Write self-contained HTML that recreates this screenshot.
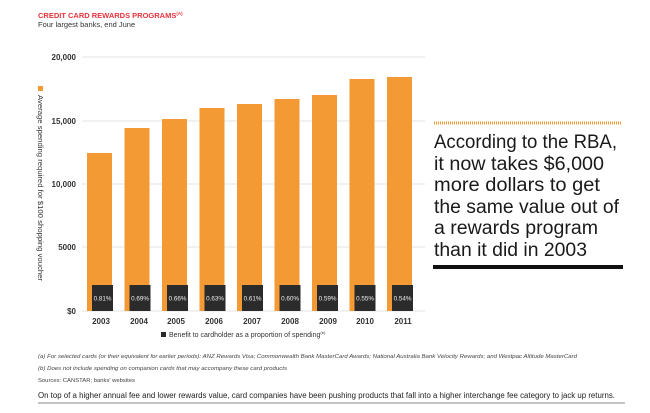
<!DOCTYPE html>
<html><head><meta charset="utf-8"><style>
body{margin:0;background:#fff;}
svg{display:block;font-family:"Liberation Sans",sans-serif;}
</style></head><body>
<svg width="650" height="413" viewBox="0 0 650 413">
<text x="38" y="18" font-size="7.5" font-weight="bold" fill="#e8333c">CREDIT CARD REWARDS PROGRAMS<tspan font-size="4.5" dy="-3">(A)</tspan></text>
<text x="38" y="27" font-size="7.5" fill="#333">Four largest banks, end June</text>
<g stroke="#e3e3e3" stroke-width="1">
<line x1="82" y1="57" x2="425" y2="57"/><line x1="82" y1="121" x2="425" y2="121"/>
<line x1="82" y1="184" x2="425" y2="184"/><line x1="82" y1="247" x2="425" y2="247"/>
<line x1="82" y1="311" x2="425" y2="311"/>
</g>
<g font-size="8" font-weight="bold" fill="#333" text-anchor="end">
<text x="76" y="60">20,000</text><text x="76" y="124">15,000</text>
<text x="76" y="187">10,000</text><text x="76" y="250">5000</text><text x="76" y="314">$0</text>
</g>
<rect x="38" y="86" width="5" height="5" fill="#f39a34"/>
<text transform="translate(38,95) rotate(90)" font-size="7" fill="#333" textLength="186" lengthAdjust="spacingAndGlyphs">Average spending required for $100 shopping voucher</text>
<g fill="#f39a34">
<rect x="87" y="153" width="25" height="158"/>
<rect x="124.5" y="128" width="25" height="183"/>
<rect x="162" y="119" width="25" height="192"/>
<rect x="199.5" y="108" width="25" height="203"/>
<rect x="237" y="104" width="25" height="207"/>
<rect x="274.5" y="99" width="25" height="212"/>
<rect x="312" y="95" width="25" height="216"/>
<rect x="349.5" y="79" width="25" height="232"/>
<rect x="387" y="77" width="25" height="234"/>
</g>
<g fill="#2b2b2b">
<rect x="92" y="285" width="21" height="26"/><rect x="129.5" y="285" width="21" height="26"/>
<rect x="167" y="285" width="21" height="26"/><rect x="204.5" y="285" width="21" height="26"/>
<rect x="242" y="285" width="21" height="26"/><rect x="279.5" y="285" width="21" height="26"/>
<rect x="317" y="285" width="21" height="26"/><rect x="354.5" y="285" width="21" height="26"/>
<rect x="392" y="285" width="21" height="26"/>
</g>
<g font-size="6.3" fill="#eee" text-anchor="middle">
<text x="102.5" y="300.5">0.81%</text><text x="140" y="300.5">0.69%</text><text x="177.5" y="300.5">0.66%</text>
<text x="215" y="300.5">0.63%</text><text x="252.5" y="300.5">0.61%</text><text x="290" y="300.5">0.60%</text>
<text x="327.5" y="300.5">0.59%</text><text x="365" y="300.5">0.55%</text><text x="402.5" y="300.5">0.54%</text>
</g>
<g font-size="8" font-weight="bold" fill="#333" text-anchor="middle">
<text x="101" y="324">2003</text><text x="139" y="324">2004</text><text x="176" y="324">2005</text>
<text x="214" y="324">2006</text><text x="252" y="324">2007</text><text x="290" y="324">2008</text>
<text x="328" y="324">2009</text><text x="365" y="324">2010</text><text x="403" y="324">2011</text>
</g>
<rect x="161" y="332" width="5" height="5" fill="#2b2b2b"/>
<text x="169" y="337" font-size="7" fill="#333">Benefit to cardholder as a proportion of spending<tspan font-size="4" dy="-3">(b)</tspan></text>
<g font-size="5.6" font-style="italic" fill="#444">
<text x="38" y="358" textLength="539" lengthAdjust="spacingAndGlyphs">(a) For selected cards (or their equivalent for earlier periods): ANZ Rewards Visa; Commonwealth Bank MasterCard Awards; National Australia Bank Velocity Rewards; and Westpac Altitude MasterCard</text>
<text x="38" y="370" textLength="249" lengthAdjust="spacingAndGlyphs">(b) Does not include spending on companion cards that may accompany these card products</text>
</g>
<text x="38" y="382" font-size="5.6" fill="#444" textLength="97" lengthAdjust="spacingAndGlyphs">Sources: CANSTAR; banks' websites</text>
<text x="38" y="398" font-size="7.8" fill="#222" textLength="577" lengthAdjust="spacingAndGlyphs">On top of a higher annual fee and lower rewards value, card companies have been pushing products that fall into a higher interchange fee category to jack up returns.</text>
<line x1="38" y1="403" x2="625" y2="403" stroke="#888" stroke-width="1"/>
<line x1="434" y1="123" x2="622" y2="123" stroke="#f39a34" stroke-width="3" stroke-dasharray="1,1"/>
<g font-size="19" fill="#1a1a1a" lengthAdjust="spacingAndGlyphs">
<text x="434" y="148" textLength="183" lengthAdjust="spacingAndGlyphs">According to the RBA,</text>
<text x="434" y="170" textLength="170" lengthAdjust="spacingAndGlyphs">it now takes $6,000</text>
<text x="434" y="191" textLength="166" lengthAdjust="spacingAndGlyphs">more dollars to get</text>
<text x="434" y="213" textLength="185" lengthAdjust="spacingAndGlyphs">the same value out of</text>
<text x="434" y="234" textLength="164" lengthAdjust="spacingAndGlyphs">a rewards program</text>
<text x="434" y="256" textLength="153" lengthAdjust="spacingAndGlyphs">than it did in 2003</text>
</g>
<rect x="433" y="265" width="190" height="4" fill="#111"/>
</svg>
</body></html>
